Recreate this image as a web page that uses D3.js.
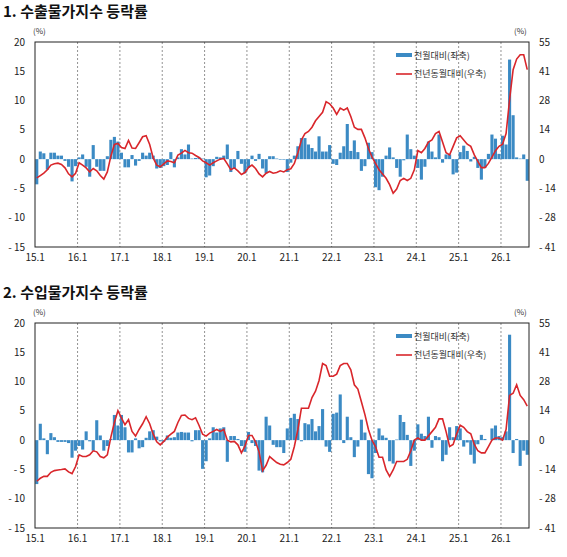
<!DOCTYPE html>
<html><head><meta charset="utf-8">
<script src="https://cdn.jsdelivr.net/npm/d3@7"></script>
<style>
body{margin:0;background:#fff;font-family:"Noto Sans CJK KR","Noto Sans",sans-serif;}
</style></head>
<body>
<script>
// months 2015.1 - 2026.8
var years = ["15.1","16.1","17.1","18.1","19.1","20.1","21.1","22.1","23.1","24.1","25.1","26.1"];
var leftTicks = [20, 15, 10, 5, 0, -5, -10, -15];
var rightTicks = [55, 41, 28, 14, 0, -14, -28, -41];

// 수출 전월대비 (좌축, %)
var expMoM = [
 -4.3,1.3,1.0,-1.8,1.1,1.1,0.6,0.6,-0.3,-1.3,-3.8,-1.2,
 0.3,0.8,-1.3,-3.0,2.4,-1.3,-2.0,-2.0,0.5,3.3,3.8,3.0,
 1.1,-1.4,-1.4,0.7,-1.1,-0.3,1.1,0.6,1.1,0.6,-1.6,-1.5,
 -1.2,-1.0,1.2,-1.4,0.3,1.7,0.8,2.5,0.1,0.2,0.3,0.1,
 -3.1,-2.8,-1.2,0.4,0.3,0.6,2.5,-2.2,-1.6,1.4,-0.8,-2.4,
 -1.5,0.6,-0.3,0.9,-1.6,-2.4,0.5,0.5,0.1,-0.1,-0.1,-2.2,
 -0.6,0.6,2.2,3.6,3.6,2.5,1.9,1.3,3.9,1.3,1.3,2.4,
 -0.8,-1.0,1.1,2.2,6.0,1.4,3.2,1.2,-2.0,-1.2,2.8,1.2,
 -4.8,-5.3,-3.0,0.6,2.0,0.3,-1.5,-3.0,-0.2,4.2,1.7,0.6,
 -1.5,-3.5,-1.3,3.0,1.3,0.3,4.2,-0.6,0.8,0.8,-2.6,-2.3,
 1.2,2.3,1.4,-0.4,0.4,-1.5,-3.5,-1.5,0.9,4.2,3.5,0.9,
 4.0,2.5,17.0,7.5,0.3,0.1,0.8,-3.7
];
// 수출 전년동월대비 (우축, %)
var expYoY = [
 -8.8,-7.7,-6.6,-5.0,-2.8,-2.2,-1.9,-2.5,-4.1,-6.9,-8.3,-6.6,
 -1.7,-2.8,-4.1,-6.0,-4.4,-5.5,-7.7,-9.4,-6.0,1.4,6.9,7.4,
 5.5,5.0,8.8,5.2,5.0,7.7,10.5,11.0,6.9,0.6,-2.8,-3.6,
 -2.2,-0.8,-1.1,-1.7,1.9,2.8,4.1,3.0,2.8,1.7,0.8,-0.8,
 -1.7,-2.8,-1.7,-0.8,0.0,0.3,-2.2,-5.0,-4.1,-5.5,-7.2,-6.3,
 -3.9,-2.8,-4.4,-6.9,-8.3,-6.6,-5.8,-6.6,-6.3,-5.5,-6.0,-5.0,
 -4.5,-2,3,9,12,13,15,18,20,22,27,26,
 24,21,24,23,24,20,15,14,14,10,5,1,
 -2,-5,-7,-9,-12,-16,-14,-10,-9,-10,-9,-5,
 4,3,5,8,9,12,13,8,3,2,6,10,
 11,9,7,6,2,-1,-4,-4,-2,1,4,6,
 7,12,28,42,47,49,49,42
];
// 수입 전월대비 (좌축, %)
var impMoM = [
 -7.5,2.8,0.3,-2.4,1.2,0.5,-0.3,-0.3,-0.3,-0.5,-3.0,-1.8,
 -1.0,-1.6,1.5,-0.2,-1.8,3.4,0.8,-1.8,-1.0,0.2,4.3,2.5,
 4.3,2.2,-2.1,-2.1,0.3,-1.4,-1.2,0.4,1.5,1.7,0.6,-0.2,
 -0.3,0.8,0.4,0.5,1.3,1.4,1.3,1.3,-0.2,1.7,1.7,-4.9,
 -3.6,0.3,2.2,1.3,2.0,2.2,-3.7,0.7,0.7,0.2,-1.0,-2.0,
 1.4,-0.5,-1.0,-5.2,-5.5,4.0,2.5,-0.8,-1.2,-1.2,-2.2,2.0,
 3.8,4.5,3.6,-0.2,2.9,2.7,3.6,1.5,2.4,5.3,-1.1,-2.0,
 4.5,4.7,7.8,-0.5,4.0,0.5,-2.9,-1.1,3.5,1.3,-5.8,-6.5,
 -2.2,2.0,0.8,0.4,-3.6,-4.0,0.1,4.3,3.1,0.9,-4.4,-1.8,
 2.7,1.1,0.7,4.0,-1.3,0.7,0.5,-3.6,-2.5,2.2,0.5,2.4,
 2.0,-1.1,-0.4,-2.5,-4.0,-0.7,0.9,0.2,0.0,2.0,2.5,0.7,
 0.5,1.5,18.0,-2.2,0.2,-4.4,-1.8,-2.5
];
// 수입 전년동월대비 (우축, %)
var impYoY = [
 -19.3,-17.9,-17.0,-17.0,-15.1,-14.3,-14.0,-13.8,-13.5,-14.9,-15.7,-12.4,
 -6.9,-7.7,-7.7,-6.9,-5.0,-5.5,-7.7,-8.3,-6.9,1.4,8.3,13.8,
 10.5,7.2,9.6,4.1,1.9,5.0,7.7,11.0,7.7,2.8,-0.8,-2.2,
 -0.6,1.4,2.8,4.1,8.3,11.6,11.8,10.2,9.6,10.5,6.9,2.8,
 1.9,3.3,4.1,5.0,4.1,5.0,0.0,-0.8,-0.6,-2.2,-6.0,-2.8,
 2.2,2.2,-0.8,-5.5,-14.3,-11.8,-7.7,-9.1,-10.5,-11.3,-11.6,-10.5,
 -9,-3,5,15,15,15,20,23,28,36,35,30,
 30,31,35,36,36,33,26,24,18,12,5,0,
 -3,-8,-8,-14,-17,-14,-10,-10,-10,-9,-5,0,
 1,0,0,2,4,6,10,10,4,-3,-2,3,
 7,6,4,3,-2,-5,-6,-6,-3,0,1,1,
 0,5,21,22,26,21,19,16
];

var W = 567, H = 557;
var svg = d3.select("body").append("svg").attr("width", W).attr("height", H);
var months = d3.range(expMoM.length);
var x = d3.scaleBand().domain(months).range([35, 529]).paddingInner(0.12).paddingOuter(0.06);

function panel(top, title, mom, yoy) {
  var y0 = top + 30, y1 = top + 235;
  var yL = d3.scaleLinear().domain([-15, 20]).range([y1, y0]);
  var yR = d3.scaleLinear().domain([-41.25, 55]).range([y1, y0]);
  var g = svg.append("g");

  g.append("text").attr("x", 3).attr("y", top + 5).attr("font-size", 15).attr("font-weight", "bold")
    .attr("fill", "#111").text(title);

  // year gridlines
  g.selectAll(".grid").data(years.slice(1)).enter().append("line")
    .attr("x1", function(d, i){ return x((i + 1) * 12); })
    .attr("x2", function(d, i){ return x((i + 1) * 12); })
    .attr("y1", y0).attr("y2", y1)
    .attr("stroke", "#777").attr("stroke-width", 0.8).attr("stroke-dasharray", "2,2");

  // bars
  g.selectAll(".bar").data(mom).enter().append("rect")
    .attr("x", function(d, i){ return x(i); })
    .attr("width", x.bandwidth())
    .attr("y", function(d){ return yL(Math.max(0, d)); })
    .attr("height", function(d){ return Math.abs(yL(d) - yL(0)); })
    .attr("fill", "#3b8ac4");

  // line
  var line = d3.line().x(function(d, i){ return x(i) + x.bandwidth() / 2; }).y(function(d){ return yR(d); });
  g.append("path").attr("d", line(yoy)).attr("fill", "none").attr("stroke", "#d9262b").attr("stroke-width", 1.6);

  // frame
  g.append("rect").attr("x", 35).attr("y", y0).attr("width", 494).attr("height", y1 - y0)
    .attr("fill", "none").attr("stroke", "#222").attr("stroke-width", 1);

  // left axis labels
  g.selectAll(".lt").data(leftTicks).enter().append("text")
    .attr("x", 25).attr("y", function(d){ return yL(d) + 3.5; }).attr("text-anchor", "end")
    .attr("font-size", 10).attr("fill", "#222")
    .text(function(d){ return d < 0 ? "- " + (-d) : d; });
  // right axis labels
  g.selectAll(".rt").data(rightTicks).enter().append("text")
    .attr("x", 539).attr("y", function(d, i){ return yL(20 - i * 5) + 3.5; })
    .attr("font-size", 10).attr("fill", "#222")
    .text(function(d){ return d < 0 ? "- " + (-d) : d; });
  // x labels
  g.selectAll(".xt").data(years).enter().append("text")
    .attr("x", function(d, i){ return x(i * 12); }).attr("y", y1 + 14).attr("text-anchor", "middle")
    .attr("font-size", 10).attr("fill", "#222").text(function(d){ return d; });

  g.append("text").attr("x", 33).attr("y", y0 - 8).attr("font-size", 8).attr("fill", "#333").text("(%)");
  g.append("text").attr("x", 514).attr("y", y0 - 8).attr("font-size", 8).attr("fill", "#333").text("(%)");

  // legend
  g.append("rect").attr("x", 396).attr("y", y0 + 11).attr("width", 16).attr("height", 4).attr("fill", "#3b8ac4");
  g.append("text").attr("x", 414).attr("y", y0 + 17).attr("font-size", 9).attr("fill", "#333").text("전월대비(좌축)");
  g.append("line").attr("x1", 396).attr("x2", 412).attr("y1", y0 + 32).attr("y2", y0 + 32)
    .attr("stroke", "#d9262b").attr("stroke-width", 1.6);
  g.append("text").attr("x", 414).attr("y", y0 + 35).attr("font-size", 9).attr("fill", "#333").text("전년동월대비(우축)");
}

panel(12, "1. 수출물가지수 등락률", expMoM, expYoY);
panel(293, "2. 수입물가지수 등락률", impMoM, impYoY);
</script>
</body></html>
